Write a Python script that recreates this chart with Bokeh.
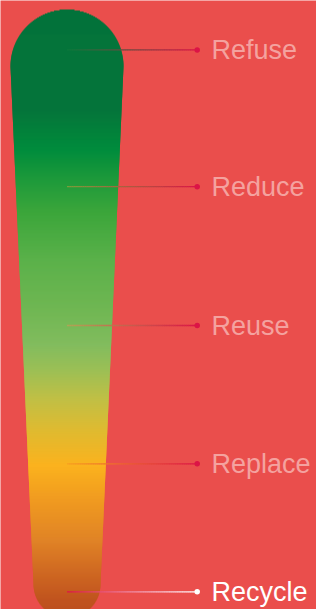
import numpy as np
from bokeh.plotting import figure
from bokeh.models import Range1d, ColumnDataSource
from bokeh.embed import file_html
from bokeh.resources import INLINE
from bokeh.core.properties import value

# ---- data -------------------------------------------------------------
stages = ["Refuse", "Reduce", "Reuse", "Replace", "Recycle"]
stage_y = [49.4, 186.2, 325.0, 463.3, 591.3]
highlight = "Recycle"

# gradient stops of the tapered bar (position, colour)
grad_y = [9, 110, 150, 180, 210, 260, 305, 345, 370, 400, 430, 465, 500, 540, 570, 600, 615]
grad_c = ["#03733A", "#05753A", "#008C3C", "#1E9A3A", "#3AA53A", "#5BB14A", "#6EB652",
          "#82BC5E", "#9CBF55", "#C2BF44", "#DFBA30", "#FBB21E", "#F09A20", "#E08326",
          "#D06A22", "#C0531E", "#BC4E1E"]

# leader-line colours (start at bar, end at dot)
line_start = ["#0B7A3C", "#7A9E3A", "#B0A554", "#F7A020", "#DC1446"]
line_end = ["#DC1446", "#DC1446", "#DC1446", "#DC1446", "#FFFFFF"]

BG = "#EA4E4C"
TEXT_DIM = "#F4A29F"
TEXT_HI = "#FFFFFF"

# ---- helpers ----------------------------------------------------------
def hex2rgb(h):
    h = h.lstrip("#")
    return np.array([int(h[i:i + 2], 16) for i in (0, 2, 4)], dtype=float)

def rgb2hex(c):
    c = np.clip(np.round(c), 0, 255).astype(int)
    return "#%02x%02x%02x" % tuple(c)

def mix(c0, c1, t):
    return rgb2hex(hex2rgb(c0) * (1 - t) + hex2rgb(c1) * t)

def grad_color(y):
    rgbs = np.array([hex2rgb(c) for c in grad_c])
    return rgb2hex([np.interp(y, grad_y, rgbs[:, k]) for k in range(3)])

# bar geometry
cx = 66.5
cy_top, r_top = 65.5, 56.5
cy_bot, r_bot = 583.0, 33.5

def half_width(y):
    if y < cy_top:
        d = cy_top - y
        return np.sqrt(max(r_top ** 2 - d ** 2, 0))
    if y <= cy_bot:
        t = (y - cy_top) / (cy_bot - cy_top)
        return r_top + (r_bot - r_top) * t
    d = y - cy_bot
    return np.sqrt(max(r_bot ** 2 - d ** 2, 0))

# ---- figure -----------------------------------------------------------
p = figure(width=316, height=609, output_backend="svg", toolbar_location=None,
           x_range=Range1d(0, 316), y_range=Range1d(609, 0),
           x_axis_location=None, y_axis_location=None, min_border=0)
p.background_fill_color = BG
p.border_fill_color = BG
p.outline_line_color = None
p.xgrid.visible = False
p.ygrid.visible = False

# tapered gradient bar, drawn as thin overlapping horizontal strips
ys = np.arange(9.0, 617.0, 1.0)
lefts, rights, tops, bots, cols = [], [], [], [], []
for y in ys:
    hw = half_width(y + 0.5)
    if hw <= 0:
        continue
    lefts.append(cx - hw)
    rights.append(cx + hw)
    tops.append(y)
    bots.append(y + 2.0)
    cols.append(grad_color(y + 0.5))
p.quad(left=lefts, right=rights, top=tops, bottom=bots,
       fill_color=cols, line_color=None)

# leader lines with gradient
x_start, x_dot = 66.5, 196.7
n = 60
sx0, sx1, sy0, sy1, scol = [], [], [], [], []
for i, name in enumerate(stages):
    xs = np.linspace(x_start, x_dot, n + 1)
    for k in range(n):
        t = (k + 0.5) / n
        sx0.append(xs[k]); sx1.append(xs[k + 1] + 0.3)
        sy0.append(stage_y[i]); sy1.append(stage_y[i])
        scol.append(mix(line_start[i], line_end[i], t))
p.segment(x0=sx0, y0=sy0, x1=sx1, y1=sy1, line_color=scol, line_width=1.3)

dot_cols = [TEXT_HI if s == highlight else "#DC1446" for s in stages]
p.scatter(x=[x_dot] * len(stages), y=stage_y, size=5.5, fill_color=dot_cols,
          line_color=None)

# labels
txt_cols = [TEXT_HI if s == highlight else TEXT_DIM for s in stages]
src = ColumnDataSource(dict(x=[211.0] * len(stages),
                            y=[v + 0.5 for v in stage_y],
                            text=stages, color=txt_cols))
p.text(x="x", y="y", text="text", source=src, text_color="color",
       text_font=value("Liberation Sans"), text_font_size="27px",
       text_baseline="middle", text_align="left")

open("out.html", "w").write(file_html(p, INLINE))
